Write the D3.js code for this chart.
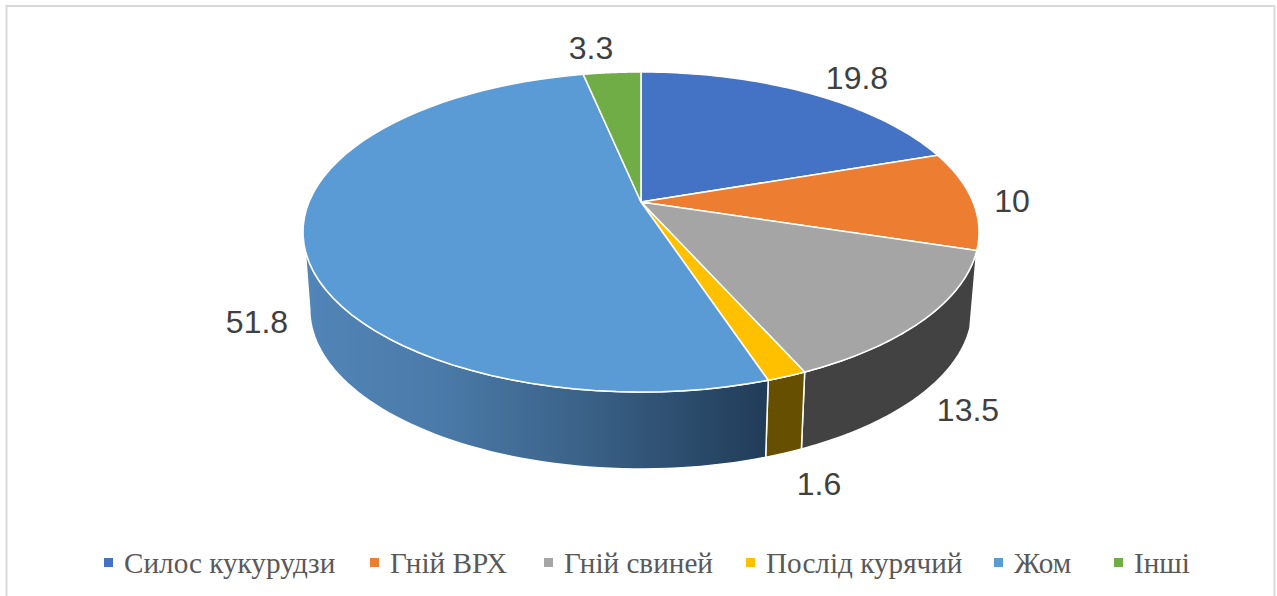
<!DOCTYPE html>
<html><head><meta charset="utf-8">
<script src="https://cdn.jsdelivr.net/npm/d3@7/dist/d3.min.js"></script>
<style>html,body{margin:0;padding:0;background:#fff;overflow:hidden}svg{display:block}</style>
</head><body><svg id="c" width="1277" height="596"></svg>
<script>
const categories = ["Силос кукурудзи","Гній ВРХ","Гній свиней","Послід курячий","Жом","Інші"];
const values = [19.8,10,13.5,1.6,51.8,3.3];
const labels = ["19.8","10","13.5","1.6","51.8","3.3"];
const topColors = ["#4472c4","#ed7d31","#a5a5a5","#ffc000","#5b9bd5","#70ad47"];
const sideColors = ["#294474","#8e4b1d","#424242","#665000","#5b9bd5","#43682b"];
const labelPos = [[857,78],[1012,201],[968,410],[819,484],[257,322],[591,48]];
const legendX = [104,370,544,746,994,1114];

const svg = d3.select("#c");
svg.append("rect").attr("x",6.5).attr("y",6).attr("width",1268).attr("height",620)
  .attr("fill","#fff").attr("stroke","#d9d9d9").attr("stroke-width",2);

const cx=641, cy=202, A=332, B=154.4, k=0.1875, Sx=0.98, D=77;
const topPt=a=>{const u=Math.sin(a),v=-Math.cos(a),w=1-k*v;return [cx+A*u/w,cy+B*v/w];};
const botPt=a=>{const p=topPt(a);return [cx+(p[0]-cx)*Sx,p[1]+D];};
const arcs=d3.pie().sort(null).value(d=>d)(values);
const line=d3.line();
const sample=(a0,a1)=>d3.range(0,61).map(i=>a0+(a1-a0)*i/60);

const TAU=2*Math.PI;
const aR=Math.acos(-k), aL=TAU-aR;        // silhouette of the lower rim
const aV=1.87, aW=TAU-aV;                 // where the wall leaves the upper rim
const defs=svg.append("defs");
const grad=defs.append("linearGradient").attr("id","sideBlue").attr("gradientUnits","userSpaceOnUse")
  .attr("x1",303).attr("x2",767).attr("y1",0).attr("y2",0);
[[0,"#5285b8"],[0.3,"#4a7aa8"],[0.6,"#3b6288"],[1,"#213c58"]].forEach(s=>grad.append("stop").attr("offset",s[0]).attr("stop-color",s[1]));

const sides=svg.append("g");
arcs.forEach((d,i)=>{
  const a0=Math.max(d.startAngle,aV),a1=Math.min(d.endAngle,aW);
  if(a1<=a0)return;
  const b0=a0<=aV+1e-3?aR:a0, b1=a1>=aW-1e-3?aL:a1;
  const pts=sample(a0,a1).map(topPt).concat(sample(b1,b0).map(botPt));
  sides.append("path").attr("d",line(pts)+"Z")
    .attr("fill",i===4?"url(#sideBlue)":sideColors[i])
    .attr("stroke","#fff").attr("stroke-width",1.5).attr("stroke-linejoin","round");
});
const tops=svg.append("g");
arcs.forEach((d,i)=>{
  const pts=[[cx,cy]].concat(sample(d.startAngle,d.endAngle).map(topPt));
  tops.append("path").attr("d",line(pts)+"Z").attr("fill",topColors[i])
    .attr("stroke","#fff").attr("stroke-width",1.5).attr("stroke-linejoin","round");
});
svg.append("g").selectAll("text").data(labels).join("text")
  .attr("x",(d,i)=>labelPos[i][0]).attr("y",(d,i)=>labelPos[i][1]+11)
  .attr("text-anchor","middle").attr("font-family","Liberation Sans").attr("font-size",32)
  .attr("fill","#404040").text(d=>d);
const leg=svg.append("g").selectAll("g").data(categories).join("g")
  .attr("transform",(d,i)=>`translate(${legendX[i]},0)`);
leg.append("rect").attr("x",0).attr("y",558).attr("width",9).attr("height",9).attr("fill",(d,i)=>topColors[i]);
leg.append("text").attr("x",20).attr("y",573).attr("font-family","Liberation Serif").attr("font-size",29.2)
  .attr("fill","#595959").text(d=>d);
</script></body></html>
